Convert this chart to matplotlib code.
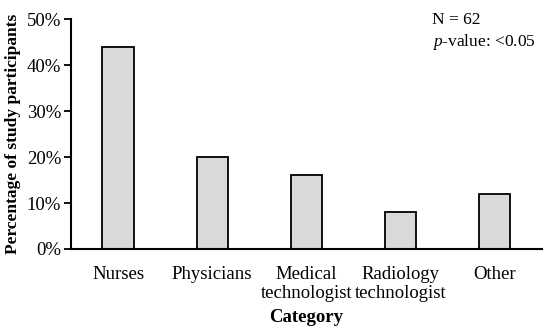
import matplotlib
matplotlib.use("Agg")
import numpy as np
from matplotlib import pyplot as plt
from matplotlib.ticker import PercentFormatter

categories = ["Nurses", "Physicians", "Medical\ntechnologist", "Radiology\ntechnologist", "Other"]
percent = [44, 20, 16, 8, 12]
yticks = [0, 10, 20, 30, 40, 50]

plt.rcParams['font.family'] = ['Liberation Serif', 'DejaVu Serif']
plt.rcParams['mathtext.fontset'] = 'custom'
plt.rcParams['mathtext.it'] = 'Liberation Serif:italic'
plt.rcParams['mathtext.rm'] = 'Liberation Serif'

fig = plt.figure(figsize=(5.5, 3.36), dpi=100)
ax = fig.add_axes([0.129, 0.259, 0.856, 0.684])

x = np.arange(len(categories))
ax.bar(x, percent, width=0.33, color="#d9d9d9", edgecolor="black", linewidth=1.3)

ax.set_xlim(-0.5, len(categories) - 0.5)
ax.set_ylim(0, 50)
ax.set_yticks(yticks)
ax.yaxis.set_major_formatter(PercentFormatter(decimals=0))
ax.set_xticks(x)
ax.set_xticklabels(categories, fontsize=13.5, linespacing=1.2)
ax.tick_params(axis="x", length=0, pad=12)
ax.tick_params(axis="y", labelsize=13.5, length=5, width=1.3, direction="out", pad=2)

for s in ["top", "right"]:
    ax.spines[s].set_visible(False)
for s in ["left", "bottom"]:
    ax.spines[s].set_linewidth(1.5)

ax.set_ylabel("Percentage of study participants", fontsize=12.5, fontweight="bold", labelpad=4)
ax.set_xlabel("Category", fontsize=13.5, fontweight="bold", labelpad=5)

fig.text(0.785, 0.94, "N = 62", fontsize=12.5, va="center")
fig.text(0.785, 0.876, "$\\it{p}$-value: <0.05", fontsize=12.5, va="center")

fig.savefig("out.png", dpi=100)
